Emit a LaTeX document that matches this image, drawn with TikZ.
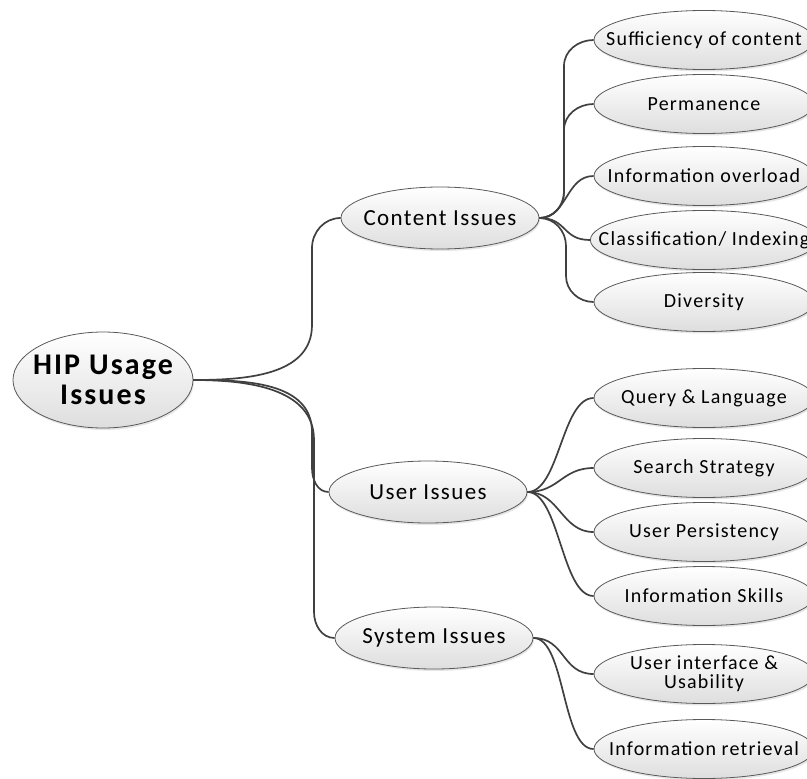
\documentclass[tikz,border=0pt]{standalone}
\usepackage{fontspec}
\setmainfont{Carlito}[LetterSpace=6]
\newfontfamily\rootfont{Carlito}[LetterSpace=7]
\usetikzlibrary{shapes.geometric,shadows}
\tikzset{
  bubble/.style={ellipse, draw=black!65, line width=0.8pt, top color=white, bottom color=black!13,
    inner xsep=-25pt, inner ysep=0pt, drop shadow={opacity=0.2, shadow xshift=1pt, shadow yshift=-2pt}},
  root/.style={bubble, minimum width=180pt, minimum height=96pt, align=center,
    font=\rootfont\fontsize{30}{30}\selectfont\bfseries},
  topic/.style={bubble, minimum width=198pt, minimum height=62pt, font=\fontsize{23}{26}\selectfont},
  leaf/.style={bubble, minimum width=220pt, minimum height=59pt, align=center,
    font=\fontsize{20}{19}\selectfont},
  link/.style={draw=black!75, line width=1.7pt},
}
\begin{document}
\begin{tikzpicture}[x=1pt,y=-1pt]
  \useasboundingbox (0,0) rectangle (807,779);
  % main nodes
  \node[root] (hip) at (103,380) {HIP Usage\\Issues};
  \node[topic] (content) at (440,218) {Content Issues};
  \node[topic] (user) at (428,492) {User Issues};
  \node[topic] (system) at (434,638) {System Issues};
  % content leaves
  \node[leaf] (suff) at (704,40) {Sufficiency of content};
  \node[leaf] (perm) at (704,104) {Permanence};
  \node[leaf] (over) at (704,176) {Information overload};
  \node[leaf] (class) at (704,240) {Classification/ Indexing};
  \node[leaf] (div) at (704,302) {Diversity};
  % user leaves
  \node[leaf] (query) at (704,398) {Query \& Language};
  \node[leaf] (search) at (704,468) {Search Strategy};
  \node[leaf] (persist) at (704,532) {User Persistency};
  \node[leaf] (skills) at (704,596) {Information Skills};
  % system leaves
  \node[leaf] (ui) at (704,674) {User interface \&\\Usability};
  \node[leaf] (retr) at (704,749) {Information retrieval};
  % first level
  \draw[link] (hip.east) to[out=0,in=-90] (312,325) -- (312,248) to[out=90,in=180] (content.west);
  \draw[link] (hip.east) to[out=0,in=90] (312,432) -- (312,468) to[out=-90,in=180] (user.west);
  \draw[link] (hip.east) to[out=0,in=90] (314,440) -- (314,612) to[out=-90,in=180] (system.west);
  % second level
  \draw[link] (content.east) to[out=0,in=-90] (564,192) -- (564,66) to[out=90,in=180] (suff.west);
  \draw[link] (content.east) to[out=0,in=-90] (564,192) -- (564,130) to[out=90,in=180] (perm.west);
  \draw[link] (content.east) .. controls +(28,0) and +(-28,0) .. (over.west);
  \draw[link] (content.east) .. controls +(28,0) and +(-28,0) .. (class.west);
  \draw[link] (content.east) to[out=0,in=90] (566,246) -- (566,276) to[out=-90,in=180] (div.west);
  \draw[link] (user.east) .. controls +(32,0) and +(-32,0) .. (query.west);
  \draw[link] (user.east) .. controls +(32,0) and +(-32,0) .. (search.west);
  \draw[link] (user.east) .. controls +(32,0) and +(-32,0) .. (persist.west);
  \draw[link] (user.east) .. controls +(32,0) and +(-32,0) .. (skills.west);
  \draw[link] (system.east) .. controls +(32,0) and +(-32,0) .. (ui.west);
  \draw[link] (system.east) .. controls +(32,0) and +(-32,0) .. (retr.west);
\end{tikzpicture}
\end{document}
